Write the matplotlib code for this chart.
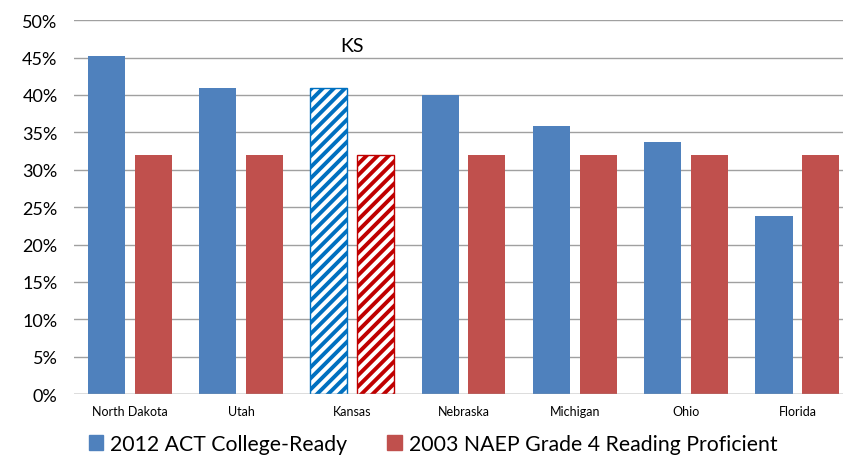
import matplotlib.pyplot as plt
import numpy as np
from matplotlib.patches import Patch

states = ['North Dakota', 'Utah', 'Kansas', 'Nebraska', 'Michigan', 'Ohio', 'Florida']
act_2012 = [45.2, 40.9, 40.9, 40.0, 35.9, 33.7, 23.8]
naep_2003 = [32, 32, 32, 32, 32, 32, 32]
series_names = ['2012 ACT College-Ready', '2003 NAEP Grade 4 Reading Proficient']
highlight = 'Kansas'

blue = '#4F81BD'
red = '#C0504D'

plt.rcParams['font.family'] = ['Lato', 'DejaVu Sans']
plt.rcParams['hatch.linewidth'] = 2.8

fig = plt.figure(figsize=(8.43, 4.60), dpi=100)
ax = fig.add_axes([0.088, 0.141, 0.912, 0.813])

x = np.arange(len(states))
w = 0.333
off = 0.21
for i, s in enumerate(states):
    if s == highlight:
        ax.bar(x[i] - off, act_2012[i], w, facecolor='white', edgecolor='#0070C0',
               hatch='///', linewidth=1, zorder=3)
        ax.bar(x[i] + off, naep_2003[i], w, facecolor='white', edgecolor='#C00000',
               hatch='///', linewidth=1, zorder=3)
        ax.text(x[i], 46.6, 'KS', ha='center', va='center', fontsize=14)
    else:
        ax.bar(x[i] - off, act_2012[i], w, color=blue, zorder=3)
        ax.bar(x[i] + off, naep_2003[i], w, color=red, zorder=3)

ax.set_ylim(0, 50)
ax.set_xlim(-0.5, 6.41)
ax.set_yticks(range(0, 51, 5))
ax.set_yticklabels([f'{v}%' for v in range(0, 51, 5)], fontsize=13)
ax.set_xticks(x)
ax.set_xticklabels(states, fontsize=9)
ax.yaxis.grid(True, color='#A0A0A0', linewidth=1, zorder=0)
for sp in ax.spines.values():
    sp.set_visible(False)
ax.tick_params(axis='y', length=0, pad=12)
ax.tick_params(axis='x', length=0, pad=8)
ax.axhline(0, color='#A0A0A0', linewidth=1, zorder=4)

handles = [Patch(color=blue), Patch(color=red)]
fig.legend(handles, series_names, loc='center left', bbox_to_anchor=(0.095, 0.033),
           ncol=2, frameon=False, fontsize=15.3, handlelength=0.7, handleheight=0.7,
           handletextpad=0.3, columnspacing=1.9, borderaxespad=0)

fig.savefig('out.png', dpi=100)
